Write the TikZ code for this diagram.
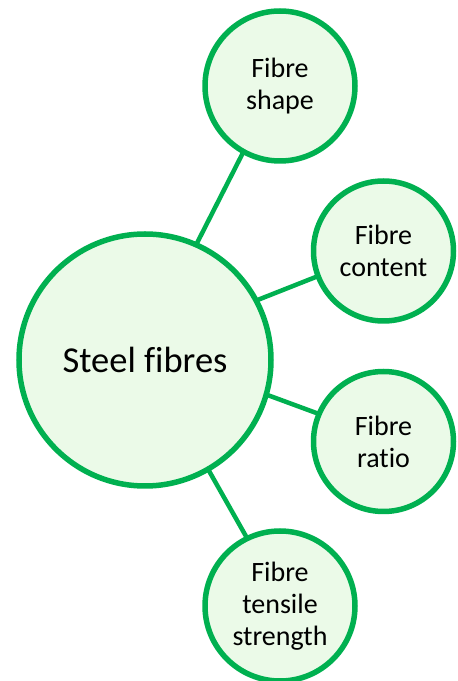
\documentclass[tikz,border=0pt]{standalone}
\usepackage{fontspec}
\setmainfont{Carlito}[Ligatures=NoCommon]
\usetikzlibrary{backgrounds}
\definecolor{ringgreen}{HTML}{00B050}
\definecolor{softgreen}{RGB}{235,250,232}
\begin{document}
\begin{tikzpicture}[x=1pt,y=1pt,
  hub/.style={circle,draw=ringgreen,fill=softgreen,line width=5.5pt,inner sep=0pt,minimum size=252pt,font=\fontsize{36.5}{44}\selectfont},
  leaf/.style={circle,draw=ringgreen,fill=softgreen,line width=5.5pt,inner sep=0pt,align=center,font=\fontsize{28}{32}\selectfont},
  link/.style={draw=ringgreen,line width=4.5pt,shorten <=-3pt,shorten >=-3pt}]
\useasboundingbox (0,0) rectangle (458,681);
\node[hub] (steel) at (145,321) {Steel fibres};
\node[leaf,minimum size=150pt] (shape) at (280,595) {Fibre\\shape};
\node[leaf,minimum size=140pt] (content) at (383.5,430) {Fibre\\content};
\node[leaf,minimum size=140pt] (ratio) at (383.5,239.5) {Fibre\\ratio};
\node[leaf,minimum size=150pt] (tensile) at (280,75) {Fibre\\tensile\\strength};
\begin{scope}[on background layer]
\draw[link] (steel.66.4) -- (shape.241);
\draw[link] (steel.28.6) -- (content.201.7);
\draw[link] (steel.-16.2) -- (ratio.157.2);
\draw[link] (steel.-60.7) -- (tensile.116.7);
\end{scope}
\end{tikzpicture}
\end{document}
